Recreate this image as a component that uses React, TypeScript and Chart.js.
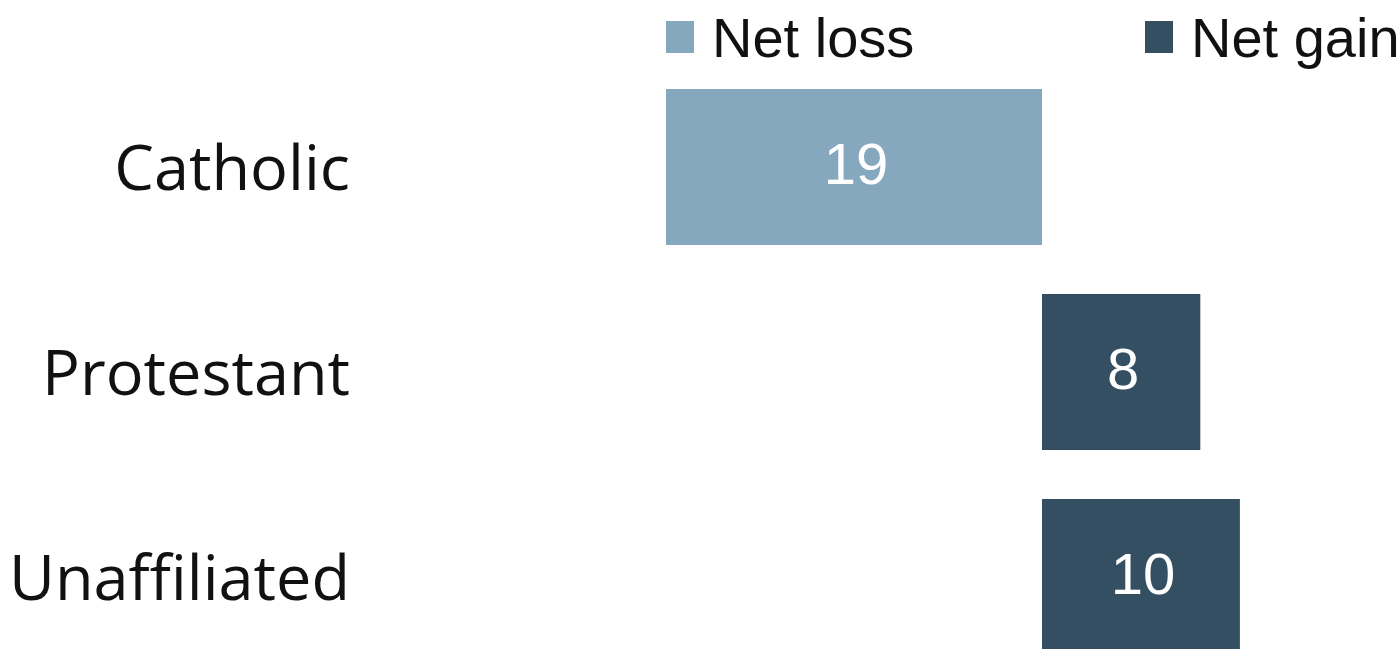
import React, { useEffect, useRef } from "react";
import { Chart, registerables } from "chart.js";

Chart.register(...registerables);

// ---- data ----
const categories = ["Catholic", "Protestant", "Unaffiliated"];
const seriesNames = ["Net loss", "Net gain"];
const netLoss: (number | null)[] = [19, null, null];
const netGain: (number | null)[] = [null, 8, 10];
const axisMin = -19;
const axisMax = 19;

const seriesColors = ["#86a8bf", "#334f61"];

const topLegendPlugin = {
  id: "topLegend",
  afterDraw(chart: any, _args: any, opts: any) {
    const { ctx, chartArea } = chart;
    ctx.save();
    ctx.font = opts.font;
    ctx.textBaseline = "alphabetic";
    ctx.textAlign = "left";
    chart.data.datasets.forEach((ds: any, i: number) => {
      const x0 = chartArea.left + opts.offsets[i];
      ctx.fillStyle = ds.backgroundColor;
      ctx.fillRect(x0, opts.boxTop, opts.boxWidth, opts.boxHeight);
      ctx.fillStyle = opts.color;
      ctx.fillText(ds.label, x0 + opts.boxWidth + opts.gap, opts.baseline);
    });
    ctx.restore();
  },
};

const valueLabelPlugin = {
  id: "valueLabels",
  afterDatasetsDraw(chart: any, _args: any, opts: any) {
    const { ctx } = chart;
    ctx.save();
    ctx.font = opts.font;
    ctx.fillStyle = opts.color;
    ctx.textAlign = "center";
    ctx.textBaseline = "middle";
    chart.data.datasets.forEach((ds: any, i: number) => {
      const meta = chart.getDatasetMeta(i);
      meta.data.forEach((bar: any, j: number) => {
        const v = ds.data[j];
        if (v === null || v === undefined) return;
        const p = bar.getProps(["x", "y", "base"], true);
        ctx.fillText(String(Math.abs(v)), (p.x + p.base) / 2 + 2, p.y + 1);
      });
    });
    ctx.restore();
  },
};

export default function App() {
  const canvasRef = useRef<HTMLCanvasElement | null>(null);

  useEffect(() => {
    if (!canvasRef.current) return;
    const chart = new Chart(canvasRef.current, {
      type: "bar",
      data: {
        labels: categories,
        datasets: [
          {
            label: seriesNames[0],
            data: netLoss.map((v) => (v === null ? null : -v)),
            backgroundColor: seriesColors[0],
            borderWidth: 0,
          },
          {
            label: seriesNames[1],
            data: netGain,
            backgroundColor: seriesColors[1],
            borderWidth: 0,
          },
        ],
      },
      options: {
        indexAxis: "y",
        animation: false,
        responsive: true,
        maintainAspectRatio: false,
        datasets: {
          bar: { barPercentage: 0.76, categoryPercentage: 1 },
        },
        layout: {
          padding: { top: 64.5, bottom: 10.5, left: 0, right: 0 },
        },
        scales: {
          x: {
            display: false,
            stacked: true,
            min: axisMin,
            max: axisMax,
          },
          y: {
            stacked: true,
            grid: { display: false, drawTicks: false },
            border: { display: false },
            afterFit: (scale: any) => {
              scale.width = 666;
              scale.paddingTop = 0;
              scale.paddingBottom = 0;
              scale.paddingLeft = 0;
              scale.paddingRight = 0;
            },
            ticks: {
              padding: 316,
              labelOffset: 5,
              color: "#111",
              font: { family: "'Open Sans'", size: 63 },
            },
          },
        },
        plugins: {
          legend: { display: false },
          tooltip: { enabled: false },
          topLegend: {
            offsets: [0, 479],
            boxTop: 21,
            boxWidth: 28,
            boxHeight: 32,
            gap: 18,
            baseline: 57,
            font: "56px 'Liberation Sans'",
            color: "#111",
          },
          valueLabels: {
            font: "58px 'Liberation Sans'",
            color: "#ffffff",
          },
        } as any,
      },
      plugins: [topLegendPlugin, valueLabelPlugin],
    });
    return () => chart.destroy();
  }, []);

  return (
    <div
      style={{
        position: "fixed",
        left: 0,
        top: 0,
        width: 1400,
        height: 649,
        overflow: "hidden",
        background: "#fff",
      }}
    >
      <div style={{ position: "relative", width: 1418, height: 690 }}>
        <canvas ref={canvasRef} />
      </div>
    </div>
  );
}
